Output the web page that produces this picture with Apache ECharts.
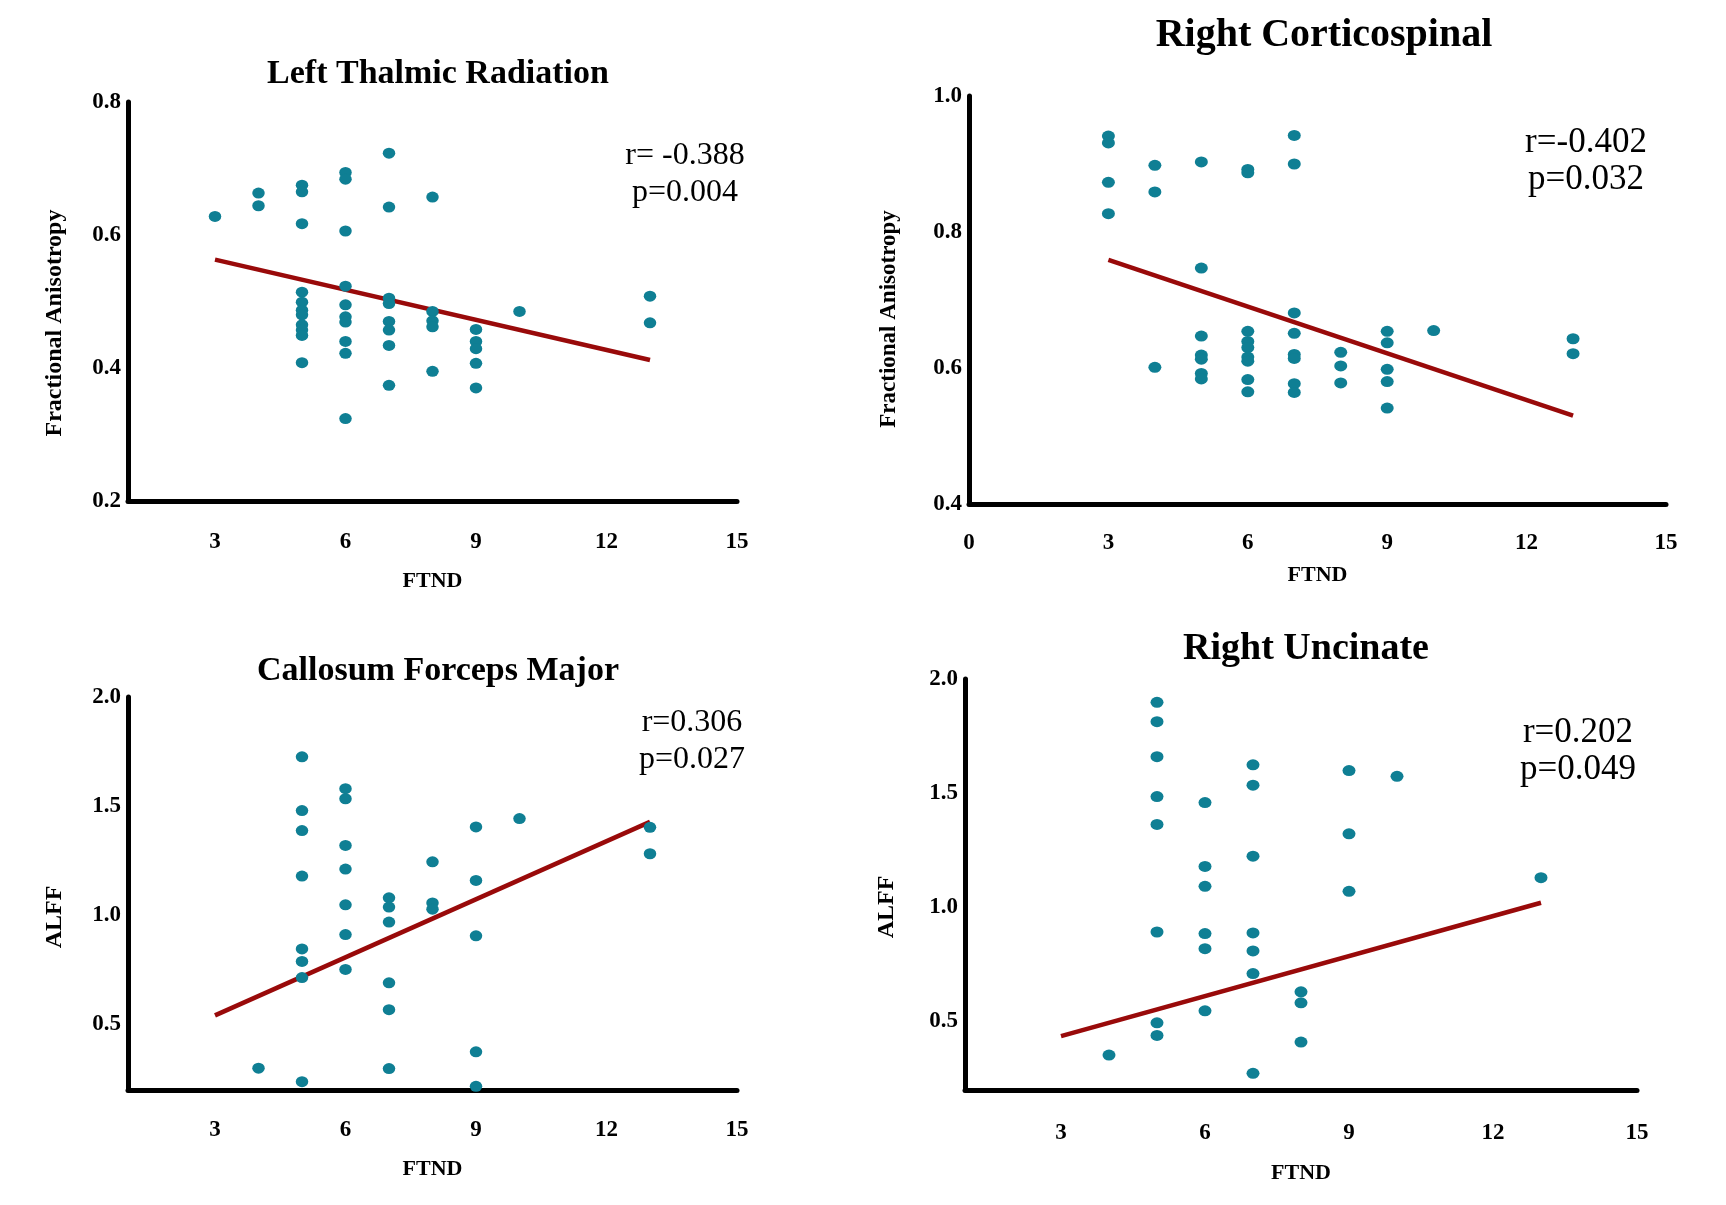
<!DOCTYPE html>
<html><head><meta charset="utf-8">
<script src="https://cdn.jsdelivr.net/npm/echarts@6/dist/echarts.min.js"></script>
<style>html,body{margin:0;padding:0;background:#fff}#c{width:1726px;height:1205px}</style>
</head><body><div id="c"></div>
<script>
// ---------- data ----------
const titles = ['Left Thalmic Radiation', 'Right Corticospinal', 'Callosum Forceps Major', 'Right Uncinate'];
const yNames = ['Fractional Anisotropy', 'Fractional Anisotropy', 'ALFF', 'ALFF'];
const xName = 'FTND';
const stats = [['r= -0.388', 'p=0.004'], ['r=-0.402', 'p=0.032'], ['r=0.306', 'p=0.027'], ['r=0.202', 'p=0.049']];

const ltrX  = [3, 4,4, 5,5,5,5,5,5,5,5,5,5,5, 6,6,6,6,6,6,6,6,6,6, 7,7,7,7,7,7,7,7, 8,8,8,8,8, 9,9,9,9,9, 10, 13,13];
const ltrFA = [0.628, 0.663,0.644,
  0.675,0.665,0.617,0.514,0.499,0.487,0.480,0.465,0.457,0.449,0.408,
  0.694,0.684,0.606,0.523,0.495,0.477,0.469,0.440,0.422,0.324,
  0.723,0.642,0.505,0.497,0.470,0.457,0.434,0.374,
  0.657,0.485,0.471,0.462,0.395,
  0.458,0.440,0.429,0.407,0.370,
  0.485, 0.508,0.468];
const ltrFit = [[3, 0.563], [13, 0.412]];

const rcsX  = [3,3,3,3, 4,4,4, 5,5,5,5,5,5,5, 6,6,6,6,6,6,6,6,6, 7,7,7,7,7,7,7,7, 8,8,8, 9,9,9,9,9, 10, 13,13];
const rcsFA = [0.941,0.931,0.873,0.827,
  0.898,0.859,0.601,
  0.903,0.747,0.647,0.619,0.613,0.592,0.584,
  0.892,0.887,0.654,0.639,0.630,0.616,0.610,0.583,0.565,
  0.942,0.900,0.681,0.651,0.620,0.614,0.577,0.564,
  0.623,0.603,0.578,
  0.654,0.637,0.598,0.580,0.541,
  0.655, 0.643,0.621];
const rcsFit = [[3, 0.759], [13, 0.530]];

const cfmX    = [4, 5,5,5,5,5,5,5,5, 6,6,6,6,6,6,6, 7,7,7,7,7,7, 8,8,8, 9,9,9,9,9, 10, 13,13];
const cfmALFF = [0.300,
  1.726,1.480,1.388,1.180,0.846,0.789,0.715,0.238,
  1.580,1.534,1.320,1.212,1.048,0.912,0.752,
  1.080,1.038,0.969,0.691,0.568,0.298,
  1.245,1.057,1.028,
  1.405,1.160,0.906,0.375,0.217,
  1.443, 1.403,1.282];
const cfmFit = [[3, 0.542], [13, 1.428]];

const ruX    = [4, 5,5,5,5,5,5,5,5, 6,6,6,6,6,6, 7,7,7,7,7,7,7, 8,8,8, 9,9,9, 10, 13];
const ruALFF = [0.353,
  1.898,1.813,1.660,1.485,1.363,0.892,0.494,0.439,
  1.459,1.179,1.092,0.885,0.819,0.547,
  1.624,1.535,1.224,0.888,0.809,0.710,0.273,
  0.630,0.582,0.410,
  1.599,1.322,1.070,
  1.574, 1.130];
const ruFit = [[3, 0.436], [13, 1.02]];

// ---------- chart ----------
const SERIF = '"Liberation Serif", "Times New Roman", serif';
const DOT = '#0f7f94';
const FIT = '#990a0a';
const zip = (xs, ys) => xs.map((x, i) => [x, ys[i]]);

const grids = [
  {left: 128, top: 102, width: 609, height: 399},
  {left: 969, top: 96, width: 697, height: 408},
  {left: 128, top: 697, width: 609, height: 393},
  {left: 965, top: 679, width: 672, height: 411}
];
const titlePos = [[433, 52, 34], [1319, 11, 40], [433, 649, 34], [1301, 625, 38]];
const xLabelMargin = [30, 28, 29, 32];
const xNameGap = [69, 60, 68, 72];
const yNamePos = [[55, 323, 24], [889, 319, 23], [55, 917, 24], [887, 907, 24]];
const statPos = [[685, 156, 32], [1586, 143, 35], [692, 723, 32], [1578, 733, 35]];

const axisLine = {show: true, onZero: false, lineStyle: {color: '#000', width: 5}};
function xAxisFor(i) {
  const full = i === 1;
  return {
    type: 'value', gridIndex: i,
    min: full ? 0 : 1, max: 15, interval: full ? 3 : 1,
    name: xName, nameLocation: 'middle', nameGap: xNameGap[i],
    nameTextStyle: {fontFamily: SERIF, fontWeight: 'bold', fontSize: 22, color: '#000'},
    axisLine: axisLine, axisTick: {show: false}, splitLine: {show: false},
    axisLabel: {
      margin: xLabelMargin[i], fontFamily: SERIF, fontWeight: 'bold', fontSize: 23, color: '#000',
      formatter: v => (Math.round(v) % 3 === 0 ? String(Math.round(v)) : '')
    }
  };
}
function yAxisFor(i) {
  let min, max, interval, fmt;
  if (i === 0) { min = 0.2; max = 0.8; interval = 0.2; fmt = v => v.toFixed(1); }
  else if (i === 1) { min = 0.4; max = 1.0; interval = 0.2; fmt = v => v.toFixed(1); }
  else {
    min = 0.2; max = 2.0; interval = 0.1;
    fmt = v => { const t = Math.round(v * 10); return (t % 5 === 0 && t >= 5) ? (t / 10).toFixed(1) : ''; };
  }
  return {
    type: 'value', gridIndex: i, min, max, interval,
    axisLine: axisLine, axisTick: {show: false}, splitLine: {show: false},
    axisLabel: {margin: 7, fontFamily: SERIF, fontWeight: 'bold', fontSize: 23, color: '#000', formatter: fmt}
  };
}

const pointSets = [zip(ltrX, ltrFA), zip(rcsX, rcsFA), zip(cfmX, cfmALFF), zip(ruX, ruALFF)];
const fits = [ltrFit, rcsFit, cfmFit, ruFit];

const series = [];
for (let i = 0; i < 4; i++) {
  series.push({
    type: 'line', xAxisIndex: i, yAxisIndex: i, data: fits[i], z: 2,
    symbol: 'none', lineStyle: {color: FIT, width: 4.5}, silent: true, animation: false
  });
  series.push({
    type: 'scatter', xAxisIndex: i, yAxisIndex: i, data: pointSets[i], z: 3, clip: false,
    symbol: 'circle', symbolSize: i % 2 === 1 ? [13, 11] : [12.5, 11],
    itemStyle: {color: DOT, opacity: 1}, animation: false
  });
}

const graphic = [];
for (let i = 0; i < 4; i++) {
  const [yx, yy, yfs] = yNamePos[i];
  graphic.push({
    type: 'text', x: yx, y: yy, rotation: Math.PI / 2,
    style: {text: yNames[i], font: 'bold ' + yfs + 'px ' + SERIF, fill: '#000',
      align: 'center', verticalAlign: 'middle', textAlign: 'center', textVerticalAlign: 'middle'}
  });
  const [sx, sy, sfs] = statPos[i];
  stats[i].forEach((t, k) => {
    graphic.push({
      type: 'text', x: sx, y: sy + k * 37,
      style: {text: t, font: sfs + 'px ' + SERIF, fill: '#000',
        align: 'center', verticalAlign: 'middle', textAlign: 'center', textVerticalAlign: 'middle'}
    });
  });
}

const option = {
  backgroundColor: '#fff',
  animation: false,
  title: titles.map((t, i) => ({
    text: t, left: titlePos[i][0], top: titlePos[i][1], textAlign: 'center',
    textStyle: {fontFamily: SERIF, fontWeight: 'bold', fontSize: titlePos[i][2], color: '#000'}
  })),
  grid: grids,
  xAxis: [0, 1, 2, 3].map(xAxisFor),
  yAxis: [0, 1, 2, 3].map(yAxisFor),
  series: series,
  graphic: graphic
};

const chart = echarts.init(document.getElementById('c'));
chart.setOption(option);
</script>
</body></html>
